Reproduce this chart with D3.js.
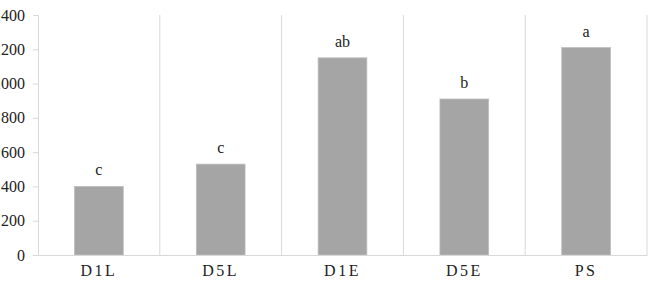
<!DOCTYPE html>
<html>
<head>
<meta charset="utf-8">
<script src="https://cdn.jsdelivr.net/npm/d3@7"></script>
<style>
  body { margin: 0; background: #fff; }
  svg { display: block; font-family: "Liberation Serif", "DejaVu Serif", serif; }
</style>
</head>
<body>
<div id="chart"></div>
<script>
// groups and their mean values, with significance letters
const categories = ['D1L', 'D5L', 'D1E', 'D5E', 'PS'];
const values = [400, 530, 1150, 910, 1210];
const letters = ['c', 'c', 'ab', 'b', 'a'];
const yTicks = [0, 200, 400, 600, 800, 1000, 1200, 1400];

const width = 655, height = 283;
const margin = { top: 15, right: 8, bottom: 28, left: 38 };

const svg = d3.select('#chart').append('svg')
  .attr('width', width)
  .attr('height', height);

const x = d3.scaleBand()
  .domain(categories)
  .range([margin.left, width - margin.right])
  .paddingInner(0.6)
  .paddingOuter(0.3);

const y = d3.scaleLinear()
  .domain([0, 1400])
  .range([height - margin.bottom, margin.top]);

// vertical separators between categories
const bounds = d3.range(categories.length + 1).map(i => margin.left + i * (width - margin.left - margin.right) / categories.length);
svg.append('g')
  .selectAll('line')
  .data(bounds.slice(1))
  .enter()
  .append('line')
  .attr('x1', d => d).attr('x2', d => d)
  .attr('y1', y(1400)).attr('y2', y(0))
  .attr('stroke', '#d9d9d9')
  .attr('stroke-width', 1);

// bars
svg.append('g')
  .selectAll('rect')
  .data(values)
  .enter()
  .append('rect')
  .attr('x', (d, i) => x(categories[i]))
  .attr('y', d => y(d))
  .attr('width', x.bandwidth())
  .attr('height', d => y(0) - y(d))
  .attr('fill', '#a5a5a5')
  .attr('stroke', '#bdbdbd')
  .attr('stroke-width', 0.8);

// significance letters
svg.append('g')
  .selectAll('text')
  .data(letters)
  .enter()
  .append('text')
  .attr('x', (d, i) => x(categories[i]) + x.bandwidth() / 2)
  .attr('y', (d, i) => y(values[i]) - 11)
  .attr('text-anchor', 'middle')
  .style('font-size', '16px')
  .style('fill', '#222')
  .text(d => d);

// y axis (left edge of the picture cuts the leading digit, as in the source)
const yAxis = svg.append('g')
  .attr('transform', `translate(${margin.left},0)`)
  .call(d3.axisLeft(y).tickValues(yTicks).tickFormat(d3.format('d')).tickSize(5).tickPadding(8));
yAxis.select('.domain').attr('stroke', '#d9d9d9');
yAxis.selectAll('.tick line').attr('stroke', '#d9d9d9');
yAxis.selectAll('.tick text')
  .style('font-family', '"Liberation Serif", serif')
  .style('font-size', '16px')
  .style('fill', '#222');

// x axis
const xAxis = svg.append('g')
  .attr('transform', `translate(0,${y(0)})`)
  .call(d3.axisBottom(x).tickSize(0).tickPadding(10));
xAxis.select('.domain').attr('stroke', '#d9d9d9');
xAxis.selectAll('.tick text')
  .style('font-family', '"Liberation Serif", serif')
  .style('font-size', '16px')
  .style('letter-spacing', '2.5px')
  .style('fill', '#222');
</script>
</body>
</html>
